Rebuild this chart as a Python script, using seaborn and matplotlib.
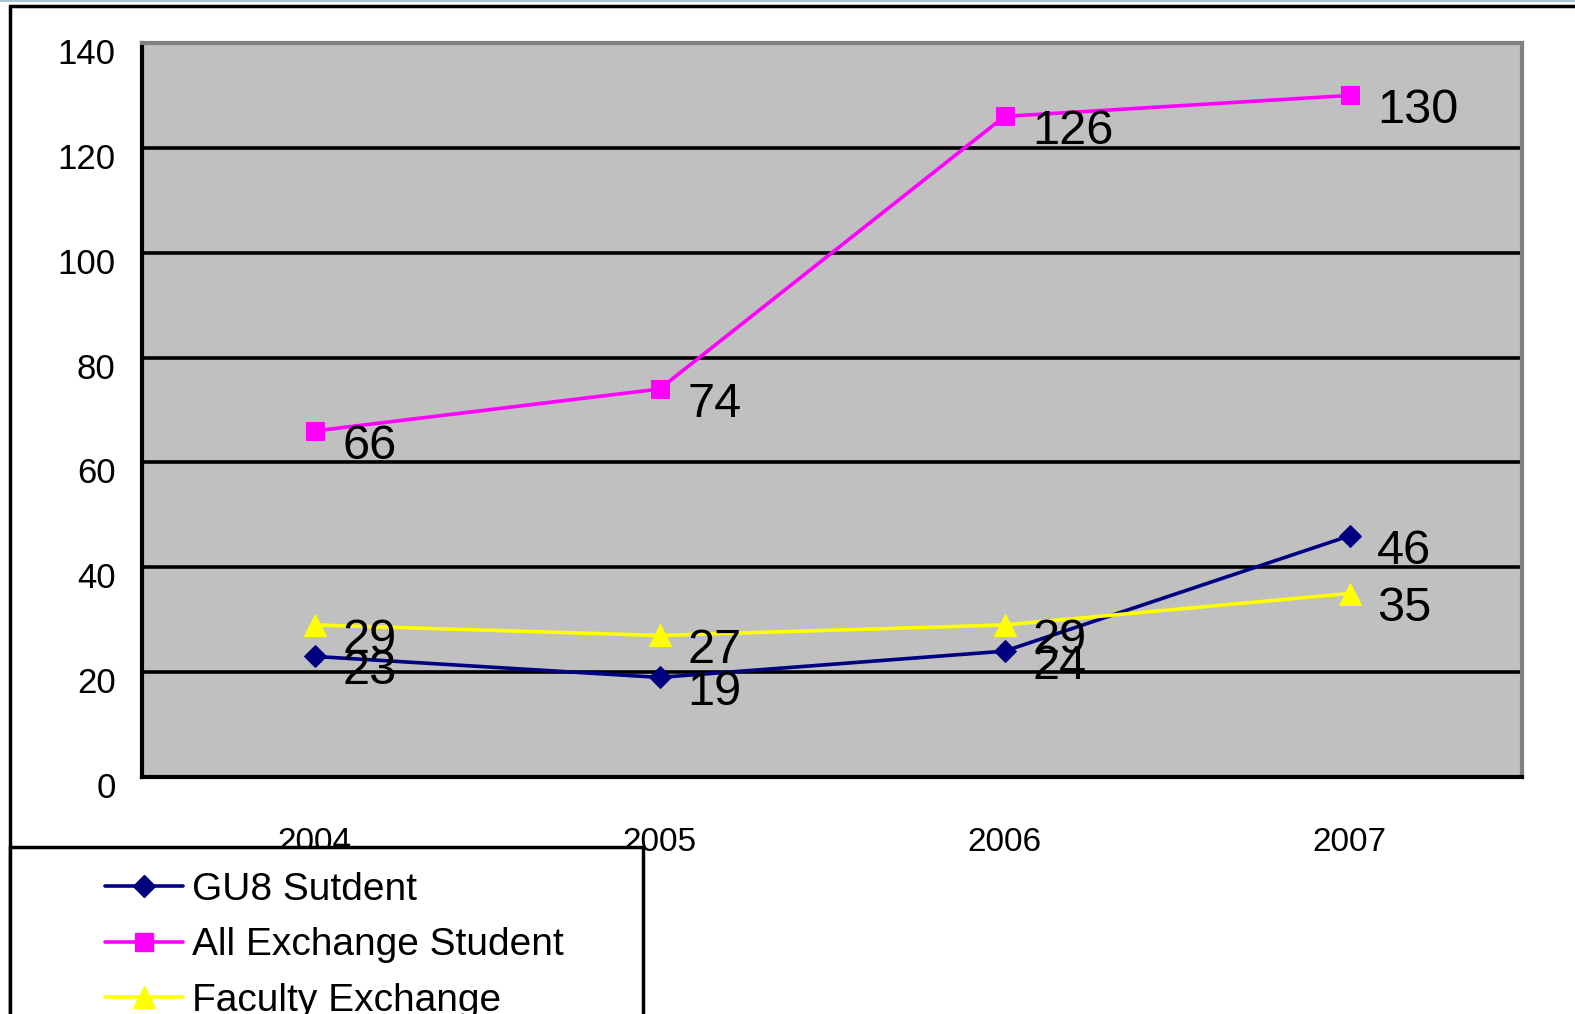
#%% imports
import numpy as np
import pandas as pd
import matplotlib.pyplot as plt
import seaborn as sns
from matplotlib.patches import Rectangle
from matplotlib.lines import Line2D
from matplotlib.transforms import ScaledTranslation

#%% data
years = ['2004', '2005', '2006', '2007']
gu8_student = [23, 19, 24, 46]
all_exchange = [66, 74, 126, 130]
faculty_exchange = [29, 27, 29, 35]
series_names = ['GU8 Sutdent', 'All Exchange Student', 'Faculty Exchange']
y_ticks = [0, 20, 40, 60, 80, 100, 120, 140]

#%% style
sns.set_style('white')
plt.rcParams['font.family'] = ['Liberation Sans', 'DejaVu Sans']
plt.rcParams['text.color'] = 'black'
plt.rcParams['xtick.color'] = 'black'
plt.rcParams['ytick.color'] = 'black'

W, H = 1575, 1014
fig = plt.figure(figsize=(W/100, H/100), dpi=100)
ax = fig.add_axes([142/W, 1 - 777/H, (1522-142)/W, (777-43)/H])
ax.set_facecolor('#c0c0c0')

styles = [('#000080', 'D', 11), ('#ff00ff', 's', 13), ('#ffff00', '^', 16)]
all_values = [gu8_student, all_exchange, faculty_exchange]

for name, vals, (col, mk, ms) in zip(series_names, all_values, styles):
    sns.lineplot(x=years, y=vals, ax=ax, color=col, marker=mk, markersize=ms,
                 markeredgecolor=col, linewidth=2.6, zorder=3, legend=False)

# data labels (overlaps kept as in the original)
for vals in all_values:
    for i, v in enumerate(vals):
        ax.annotate(str(v), (i, v), xytext=(20, -11), textcoords='offset points',
                    ha='left', va='center', fontsize=35, color='black', zorder=4)

#%% axes
ax.set_xlim(-0.5, 3.5)
ax.set_ylim(0, 140)
ax.set_yticks(y_ticks)
ax.set_yticklabels([str(t) for t in y_ticks], fontsize=25, color='black')
ax.tick_params(axis='y', direction='in', length=7, width=2.5, color='black', pad=19)
ax.set_xticks(range(len(years)))
ax.set_xticklabels(years, fontsize=24, color='black')
ax.tick_params(axis='x', which='major', length=0, pad=36)
ax.set_xticks([0.5, 1.5, 2.5], minor=True)
ax.tick_params(axis='x', which='minor', direction='in', length=8, width=2, color='black')
for lab in ax.get_yticklabels():
    lab.set_transform(lab.get_transform() + ScaledTranslation(0, -0.08, fig.dpi_scale_trans))

for y in y_ticks[1:-1]:
    ax.axhline(y, color='black', linewidth=2.6, zorder=1)
ax.set_xlabel('')
ax.set_ylabel('')

for side in ['left', 'bottom']:
    ax.spines[side].set_color('black')
    ax.spines[side].set_linewidth(3)
for side in ['top', 'right']:
    ax.spines[side].set_color('#808080')
    ax.spines[side].set_linewidth(3)

#%% outer frame + legend box
fig.add_artist(Line2D([10/W, 10/W], [-0.1, 1 - 6/H], transform=fig.transFigure,
                      color='black', linewidth=2.5))
fig.add_artist(Line2D([10/W, 1.05], [1 - 6/H, 1 - 6/H], transform=fig.transFigure,
                      color='black', linewidth=2.5))
fig.add_artist(Line2D([0, 1], [0.9995, 0.9995], transform=fig.transFigure,
                      color='#a8c4d0', linewidth=1.5))
fig.add_artist(Rectangle((10/W, -0.1), 633/W, 0.1 + 1 - 847/H,
                         transform=fig.transFigure, fill=True, facecolor='white',
                         edgecolor='black', linewidth=2.5, zorder=5))

handles = [Line2D([], [], color=c, marker=m, markersize=ms, markeredgecolor=c, linewidth=2.6)
           for c, m, ms in styles]
leg = fig.legend(handles, series_names, loc='upper left',
                 bbox_to_anchor=(105/W, 1 - 872/H), frameon=False,
                 prop={'size': 28}, handlelength=2.0,
                 handletextpad=0.25, labelspacing=0.5, borderpad=0,
                 borderaxespad=0)
for t in leg.get_texts():
    t.set_color('black')
leg.set_zorder(6)

fig.savefig('out.png', dpi=100)
